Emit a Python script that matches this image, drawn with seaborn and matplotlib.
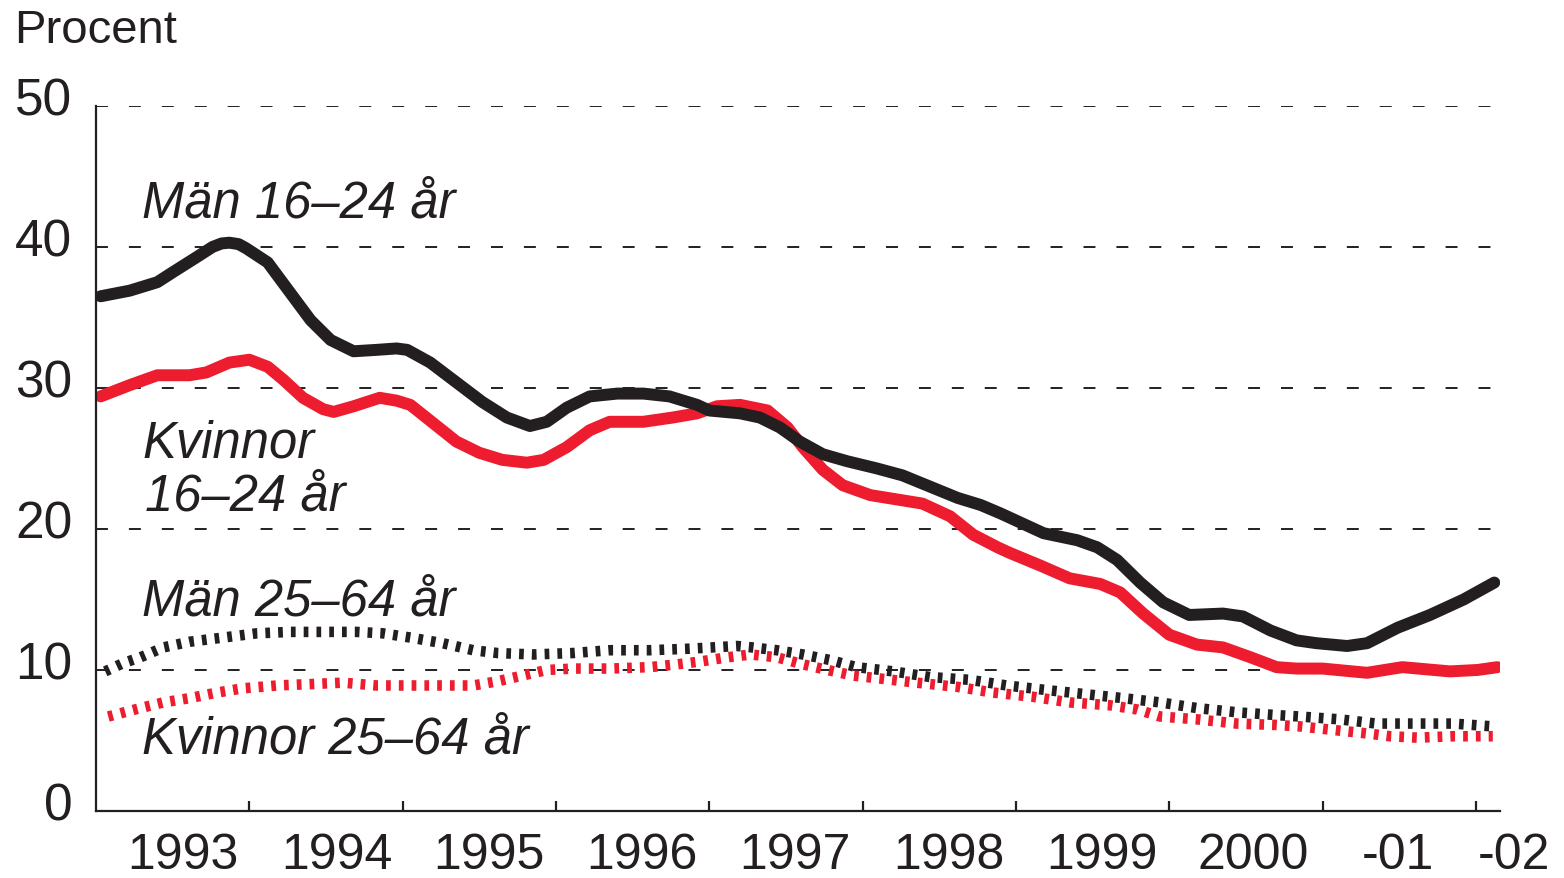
import numpy as np
import pandas as pd
import seaborn as sns
import matplotlib.pyplot as plt
from matplotlib.transforms import ScaledTranslation

sns.set_style("white")
plt.rcParams['font.family'] = ['Liberation Sans', 'DejaVu Sans']
plt.rcParams['lines.scale_dashes'] = False

BLACK = '#231f20'
RED = '#ed1c2e'

# Män 16-24 år (solid black)
man_unga_x = [1993.03, 1993.22, 1993.40, 1993.50, 1993.66, 1993.76, 1993.82, 1993.87, 1993.93, 1993.98,
              1994.12, 1994.27, 1994.40, 1994.53, 1994.68, 1994.83, 1994.96, 1995.03, 1995.18, 1995.35,
              1995.52, 1995.68, 1995.83, 1995.94, 1996.07, 1996.22, 1996.40, 1996.57, 1996.74, 1996.92,
              1997.00, 1997.20, 1997.33, 1997.46, 1997.59, 1997.74, 1997.90, 1998.09, 1998.26, 1998.44,
              1998.62, 1998.77, 1998.90, 1999.18, 1999.40, 1999.53, 1999.66, 1999.81, 1999.96, 2000.13,
              2000.35, 2000.48, 2000.66, 2000.83, 2000.96, 2001.16, 2001.29, 2001.49, 2001.70, 2001.92,
              2002.12]
man_unga_y = [36.5, 36.9, 37.5, 38.2, 39.3, 40.0, 40.25, 40.3, 40.2, 39.9,
              38.9, 36.7, 34.8, 33.4, 32.6, 32.7, 32.8, 32.7, 31.8, 30.4,
              29.0, 27.9, 27.3, 27.6, 28.6, 29.4, 29.6, 29.6, 29.4, 28.8,
              28.4, 28.2, 27.9, 27.2, 26.2, 25.3, 24.8, 24.3, 23.8, 23.0,
              22.2, 21.7, 21.1, 19.7, 19.2, 18.7, 17.8, 16.2, 14.8, 13.9,
              14.0, 13.8, 12.8, 12.1, 11.9, 11.7, 11.9, 13.0, 13.9, 15.0,
              16.2]

# Kvinnor 16-24 år (solid red)
kv_unga_x = [1993.03, 1993.22, 1993.40, 1993.61, 1993.72, 1993.87, 1994.00, 1994.12, 1994.22, 1994.35,
             1994.48, 1994.55, 1994.68, 1994.85, 1994.96, 1995.05, 1995.20, 1995.35, 1995.50, 1995.65,
             1995.81, 1995.92, 1996.07, 1996.22, 1996.35, 1996.57, 1996.76, 1996.92, 1997.05, 1997.20,
             1997.38, 1997.51, 1997.61, 1997.74, 1997.87, 1998.05, 1998.22, 1998.39, 1998.57, 1998.72,
             1998.88, 1998.96, 1999.16, 1999.35, 1999.55, 1999.68, 1999.83, 2000.00, 2000.18, 2000.35,
             2000.53, 2000.70, 2000.83, 2001.00, 2001.29, 2001.52, 2001.83, 2002.01, 2002.14]
kv_unga_y = [29.4, 30.2, 30.9, 30.9, 31.1, 31.8, 32.0, 31.5, 30.6, 29.3,
             28.5, 28.3, 28.7, 29.3, 29.1, 28.8, 27.5, 26.2, 25.4, 24.9,
             24.7, 24.9, 25.8, 27.0, 27.6, 27.6, 27.9, 28.2, 28.7, 28.8,
             28.4, 27.2, 25.8, 24.2, 23.1, 22.4, 22.1, 21.8, 20.9, 19.6,
             18.7, 18.3, 17.4, 16.5, 16.1, 15.5, 14.0, 12.5, 11.8, 11.6,
             10.9, 10.2, 10.1, 10.1, 9.8, 10.2, 9.9, 10.0, 10.2]

# Män 25-64 år (dotted black)
man_aldre_x = [1993.06, 1993.18, 1993.29, 1993.44, 1993.61, 1993.83, 1994.05, 1994.27, 1994.48, 1994.70,
               1994.87, 1995.05, 1995.26, 1995.46, 1995.62, 1995.85, 1996.11, 1996.35, 1996.61, 1996.85,
               1997.02, 1997.18, 1997.28, 1997.44, 1997.61, 1997.79, 1997.96, 1998.20, 1998.44, 1998.70,
               1998.94, 1999.18, 1999.44, 1999.70, 1999.94, 2000.18, 2000.44, 2000.70, 2000.85, 2001.11,
               2001.35, 2001.62, 2001.85, 2002.11]
man_aldre_y = [9.9, 10.5, 10.9, 11.6, 12.0, 12.3, 12.6, 12.7, 12.7, 12.7,
               12.6, 12.3, 11.9, 11.4, 11.2, 11.1, 11.2, 11.4, 11.4, 11.5,
               11.6, 11.7, 11.6, 11.4, 11.1, 10.7, 10.2, 9.9, 9.5, 9.3,
               8.9, 8.6, 8.3, 8.0, 7.7, 7.3, 7.0, 6.8, 6.7, 6.5,
               6.2, 6.2, 6.2, 6.0]

# Kvinnor 25-64 år (dotted red)
kv_aldre_x = [1993.08, 1993.29, 1993.44, 1993.61, 1993.79, 1993.96, 1994.18, 1994.40, 1994.61, 1994.83,
              1995.05, 1995.26, 1995.46, 1995.62, 1995.78, 1995.94, 1996.11, 1996.35, 1996.61, 1996.79,
              1996.94, 1997.12, 1997.27, 1997.44, 1997.61, 1997.77, 1997.94, 1998.11, 1998.35, 1998.62,
              1998.85, 1999.11, 1999.35, 1999.61, 1999.79, 1999.94, 2000.18, 2000.44, 2000.70, 2000.85,
              2001.11, 2001.29, 2001.44, 2001.62, 2001.85, 2002.11]
kv_aldre_y = [6.7, 7.3, 7.7, 8.0, 8.4, 8.7, 8.9, 9.0, 9.1, 8.9,
              8.9, 8.9, 8.9, 9.2, 9.6, 10.0, 10.1, 10.1, 10.2, 10.4,
              10.6, 10.9, 11.1, 10.9, 10.4, 10.0, 9.6, 9.4, 9.1, 8.8,
              8.4, 8.1, 7.7, 7.5, 7.2, 6.7, 6.5, 6.2, 6.1, 6.0,
              5.7, 5.5, 5.3, 5.2, 5.3, 5.3]

year_tick_pos = [1994, 1995, 1996, 1997, 1998, 1999, 2000, 2001, 2002]
year_label_pos = [1993.57, 1994.57, 1995.56, 1996.56, 1997.56, 1998.56, 1999.56, 2000.55, 2001.49]
year_labels = ["1993", "1994", "1995", "1996", "1997", "1998", "1999", "2000", "-01"]
last_label_pos = 2002.25
last_label = "-02"
y_ticks = [0, 10, 20, 30, 40, 50]

fig = plt.figure(figsize=(15.64, 8.781), dpi=100)
ax = fig.add_axes([96/1564, 1-811/878, (1500-96)/1564, (811-106)/878])

dot = (0, (3.4, 5.8))
sns.lineplot(x=kv_aldre_x, y=kv_aldre_y, ax=ax, color=RED, linewidth=7.6,
             linestyle=dot, dash_capstyle='butt')
sns.lineplot(x=man_aldre_x, y=man_aldre_y, ax=ax, color=BLACK, linewidth=7.6,
             linestyle=dot, dash_capstyle='butt')
sns.lineplot(x=kv_unga_x, y=kv_unga_y, ax=ax, color=RED, linewidth=8.6,
             solid_capstyle='round', solid_joinstyle='round')
sns.lineplot(x=man_unga_x, y=man_unga_y, ax=ax, color=BLACK, linewidth=8.6,
             solid_capstyle='round', solid_joinstyle='round')

ax.set_xlabel("")
ax.set_ylabel("")

sns.despine(ax=ax)
for s in ["left", "bottom"]:
    ax.spines[s].set_linewidth(1.6)
    ax.spines[s].set_color(BLACK)

ax.set_axisbelow(True)
ax.yaxis.grid(True, color=BLACK, linewidth=1.4, linestyle=(0, (8.6, 15.1)))
ax.xaxis.grid(False)

ax.set_yticks(y_ticks)
ax.set_yticklabels([str(v) for v in y_ticks])
ax.tick_params(axis='y', left=False, length=0, pad=17, labelsize=37, labelcolor=BLACK)
for lab in ax.get_yticklabels():
    lab.set_transform(lab.get_transform() + ScaledTranslation(0, 0.10, fig.dpi_scale_trans))

xpad = 15.5
ax.set_xticks(year_tick_pos)
ax.set_xticklabels([""] * len(year_tick_pos))
ax.tick_params(axis='x', which='major', bottom=True, direction='in', length=7, width=1.6, color=BLACK)
ax.set_xticks(year_label_pos, minor=True)
ax.set_xticklabels(year_labels, minor=True)
ax.tick_params(axis='x', which='minor', bottom=True, length=0, pad=xpad, labelsize=36, labelcolor=BLACK)

# limits last, so the tick calls do not widen them
ax.set_xlim(1993, 2002.157)
ax.set_ylim(0, 50)

# "-02" sits past the end of the axis, so it is placed as text
ax.text(last_label_pos, 0, last_label,
        transform=ax.get_xaxis_transform() + ScaledTranslation(0, -xpad/72, fig.dpi_scale_trans),
        fontsize=36, color=BLACK, ha='center', va='top', clip_on=False)

lab_kw = dict(fontsize=36.5, fontstyle='italic', color=BLACK, va='baseline', ha='left')
ax.text(1993.30, 42.06, "Män 16–24 år", **lab_kw)
ax.text(1993.30, 25.1, "Kvinnor", **lab_kw)
ax.text(1993.32, 21.35, "16–24 år", **lab_kw)
ax.text(1993.30, 13.9, "Män 25–64 år", **lab_kw)
ax.text(1993.30, 4.1, "Kvinnor 25–64 år", **lab_kw)

fig.text(14/1564, 1-43/878, "Procent", fontsize=34, color=BLACK, va='baseline', ha='left')

fig.savefig("out.png", dpi=100)
